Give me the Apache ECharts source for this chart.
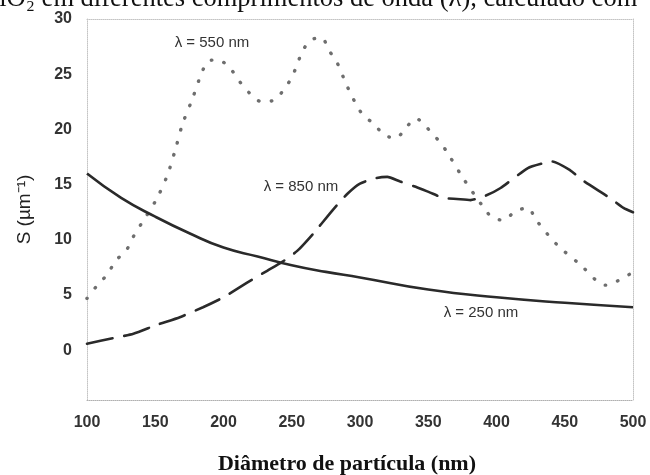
<!DOCTYPE html>
<html>
<head>
<meta charset="utf-8">
<script src="https://cdn.jsdelivr.net/npm/echarts@6/dist/echarts.min.js"></script>
<style>
html,body{margin:0;padding:0;background:#fff;}
#c{width:650px;height:475px;}
</style>
</head>
<body>
<div id="c"></div>
<script>
// ---- data ----
var xTicks = [100, 150, 200, 250, 300, 350, 400, 450, 500];
var yTicks = [0, 5, 10, 15, 20, 25, 30];

var x550 = [100,107,115,121,129,134,140,151,159,165,170,177,184,189,196,205,212,219,228,238,244,250,258,264,272,277,283,291,301,310,318,326,334,341,348,353,359,365,376,389,397,405,414,423,429,444,461,480,489,499];
var y550 = [4.7,5.8,6.9,8.1,9.1,10.3,11.5,13.7,15.9,18.3,20.5,22.7,25.1,26.2,26.3,25.5,24.3,23.3,22.5,22.7,23.6,24.7,27.1,28.1,28.3,27.2,26.1,23.8,21.5,20.5,19.5,19.2,20.2,21.0,20.3,19.6,18.8,17.7,15.5,13.2,12.0,11.8,12.6,12.9,11.8,9.6,7.8,5.9,6.3,7.0];

var x850 = [100,119,134,151,168,185,200,217,232,243,254,266,280,291,300,312,320,329,342,351,361,371,381,392,403,423,433,441,454,463,483,493,500];
var y850 = [0.6,1.1,1.5,2.3,3.0,3.9,4.8,6.1,7.2,8.0,9.0,10.6,12.7,14.2,15.1,15.6,15.7,15.3,14.75,14.3,13.8,13.7,13.6,14.0,14.7,16.5,16.9,17.1,16.3,15.4,13.8,12.9,12.5];

var x250 = [100,125,150,175,200,225,250,275,300,350,400,450,500];
var y250 = [16.0,13.8,12.1,10.6,9.3,8.5,7.7,7.1,6.6,5.5,4.8,4.3,3.9];

var seriesNames = ['λ = 550 nm', 'λ = 850 nm', 'λ = 250 nm'];
var titleText = 'TiO₂ em diferentes comprimentos de onda (λ), calculado com';
var xTitle = 'Diâmetro de partícula (nm)';
var yTitle = 'S (µm⁻¹)';

function pairs(xs, ys){ return xs.map(function(x,i){ return [x, ys[i]]; }); }

var chart = echarts.init(document.getElementById('c'), null, {renderer:'canvas'});

var dotted = {color:'#c4c4c4', width:1, type:'dotted'};
var labelFont = {color:'#333', fontFamily:'Liberation Sans, Arial, sans-serif', fontSize:16, fontWeight:'bold'};

chart.setOption({
  animation:false,
  backgroundColor:'#ffffff',
  title:[
    {text:xTitle, left:342, top:448, textAlign:'center',
     textStyle:{fontFamily:'Liberation Serif, Times New Roman, serif', fontWeight:'bold', fontSize:22, color:'#111'}}
  ],
  grid:{left:87, right:17, top:19, bottom:75, containLabel:false},
  xAxis:[
    {type:'value', min:100, max:500, interval:50, position:'bottom',
     axisLine:{show:true, onZero:false, lineStyle:{color:'#b0b0b0', width:1, type:'dotted'}},
     axisTick:{show:false}, splitLine:{show:false},
     axisLabel:Object.assign({margin:15, customValues:xTicks}, labelFont)},
    {type:'value', min:100, max:500, position:'top',
     axisLine:{show:true, onZero:false, lineStyle:dotted},
     axisTick:{show:false}, splitLine:{show:false}, axisLabel:{show:false}}
  ],
  yAxis:[
    {type:'value', min:-4.5, max:30, position:'left',
     name:yTitle, nameLocation:'middle', nameGap:53, nameRotate:90,
     nameTextStyle:{fontFamily:'Liberation Sans, Arial, sans-serif', fontSize:19, color:'#222'},
     axisLine:{show:true, onZero:false, lineStyle:dotted},
     axisTick:{show:false}, splitLine:{show:false},
     axisLabel:Object.assign({margin:15, customValues:yTicks}, labelFont)},
    {type:'value', min:-4.5, max:30, position:'right',
     axisLine:{show:true, onZero:false, lineStyle:dotted},
     axisTick:{show:false}, splitLine:{show:false}, axisLabel:{show:false}}
  ],
  series:[
    {name:seriesNames[0], type:'line', data:pairs(x550,y550), showSymbol:false, smooth:0.3,
     lineStyle:{color:'#6e6e6e', width:3.4, type:[0.5, 12.5], cap:'round'}, z:2},
    {name:seriesNames[1], type:'line', data:pairs(x850,y850), showSymbol:false, smooth:0.2,
     lineStyle:{color:'#2a2a2a', width:2.6, type:[26, 12], cap:'round'}, z:3},
    {name:seriesNames[2], type:'line', data:pairs(x250,y250), showSymbol:false, smooth:true,
     lineStyle:{color:'#2a2a2a', width:2.6, type:'solid'}, z:4}
  ],
  graphic:[
    {type:'text', left:-16, top:-14, silent:true,
     style:{text:titleText, fontFamily:'Liberation Serif, Times New Roman, serif', fontSize:26.5, fill:'#111'}},
    {type:'text', x:212, y:43, silent:true,
     style:{text:seriesNames[0], align:'center', verticalAlign:'middle', fontFamily:'Liberation Sans, Arial, sans-serif', fontSize:15, fill:'#333'}},
    {type:'text', x:301, y:187, silent:true,
     style:{text:seriesNames[1], align:'center', verticalAlign:'middle', fontFamily:'Liberation Sans, Arial, sans-serif', fontSize:15, fill:'#333'}},
    {type:'text', x:481, y:313, silent:true,
     style:{text:seriesNames[2], align:'center', verticalAlign:'middle', fontFamily:'Liberation Sans, Arial, sans-serif', fontSize:15, fill:'#333'}}
  ]
});
</script>
</body>
</html>
